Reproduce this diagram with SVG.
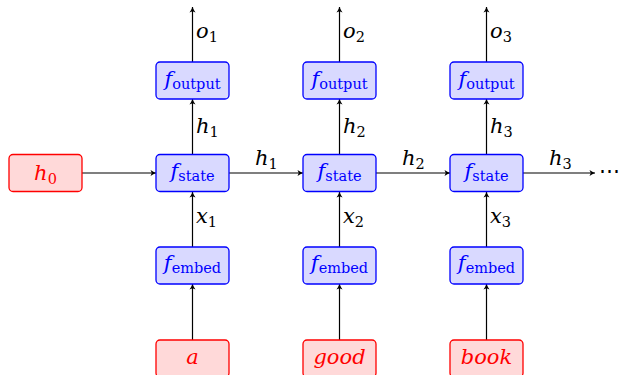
<svg xmlns="http://www.w3.org/2000/svg" width="625" height="375" viewBox="0 0 625 375">
<style>
.bbox{fill:#d9d9ff;stroke:#0000ff;stroke-width:1.3}
.rbox{fill:#ffd9d9;stroke:#ff0000;stroke-width:1.3}
text{font-family:'DejaVu Serif',serif;font-size:21px;font-style:italic}
.sub{font-size:14.5px;font-style:normal}
.bt{fill:#0000ff}
.rt{fill:#ff0000}
.conn line{stroke:#000;stroke-width:1.2;marker-end:url(#ah)}
</style>
<defs>
<marker id="ah" markerUnits="userSpaceOnUse" markerWidth="10" markerHeight="10" refX="7" refY="4" orient="auto">
<path d="M1.5,1 Q4.5,3 7,4 Q4.5,5 1.5,7 L2.8,4 Z" fill="#000"/>
</marker>
</defs>
<g id="connectors" class="conn">
<line x1="192.5" y1="62" x2="192.5" y2="7"/>
<line x1="339.5" y1="62" x2="339.5" y2="7"/>
<line x1="486.5" y1="62" x2="486.5" y2="7"/>
<line x1="192.5" y1="154" x2="192.5" y2="99"/>
<line x1="339.5" y1="154" x2="339.5" y2="99"/>
<line x1="486.5" y1="154" x2="486.5" y2="99"/>
<line x1="192.5" y1="247" x2="192.5" y2="192"/>
<line x1="339.5" y1="247" x2="339.5" y2="192"/>
<line x1="486.5" y1="247" x2="486.5" y2="192"/>
<line x1="192.5" y1="340" x2="192.5" y2="284"/>
<line x1="339.5" y1="340" x2="339.5" y2="284"/>
<line x1="486.5" y1="340" x2="486.5" y2="284"/>
<line x1="82" y1="173" x2="156" y2="173"/>
<line x1="229" y1="173" x2="303" y2="173"/>
<line x1="376" y1="173" x2="450" y2="173"/>
<line x1="523" y1="173" x2="595" y2="173"/>
</g>
<g id="labels">
<text x="196" y="38">o<tspan class="sub" dy="4">1</tspan></text>
<text x="343" y="38">o<tspan class="sub" dy="4">2</tspan></text>
<text x="490" y="38">o<tspan class="sub" dy="4">3</tspan></text>
<text x="196" y="133">h<tspan class="sub" dy="4">1</tspan></text>
<text x="343" y="133">h<tspan class="sub" dy="4">2</tspan></text>
<text x="490" y="133">h<tspan class="sub" dy="4">3</tspan></text>
<text x="196" y="223">x<tspan class="sub" dy="4">1</tspan></text>
<text x="343" y="223">x<tspan class="sub" dy="4">2</tspan></text>
<text x="490" y="223">x<tspan class="sub" dy="4">3</tspan></text>
<text x="255" y="165">h<tspan class="sub" dy="4">1</tspan></text>
<text x="402" y="165">h<tspan class="sub" dy="4">2</tspan></text>
<text x="549" y="165">h<tspan class="sub" dy="4">3</tspan></text>
<text x="599" y="178" style="font-style:normal;letter-spacing:1px">⋯</text>
</g>
<g id="h0">
<rect class="rbox" x="9" y="154.5" width="73" height="37" rx="4"/>
<text class="rt" x="45.5" y="180" text-anchor="middle">h<tspan class="sub" dy="4">0</tspan></text>
</g>
<g id="output1"><rect class="bbox" x="156" y="62" width="73" height="37" rx="4"/>
<text class="bt" x="192.5" y="86" text-anchor="middle">f<tspan class="sub" dy="3">output</tspan></text></g>
<g id="output2"><rect class="bbox" x="303" y="62" width="73" height="37" rx="4"/>
<text class="bt" x="339.5" y="86" text-anchor="middle">f<tspan class="sub" dy="3">output</tspan></text></g>
<g id="output3"><rect class="bbox" x="450" y="62" width="73" height="37" rx="4"/>
<text class="bt" x="486.5" y="86" text-anchor="middle">f<tspan class="sub" dy="3">output</tspan></text></g>
<g id="state1"><rect class="bbox" x="156" y="154.5" width="73" height="37" rx="4"/>
<text class="bt" x="192.5" y="178" text-anchor="middle">f<tspan class="sub" dy="3">state</tspan></text></g>
<g id="state2"><rect class="bbox" x="303" y="154.5" width="73" height="37" rx="4"/>
<text class="bt" x="339.5" y="178" text-anchor="middle">f<tspan class="sub" dy="3">state</tspan></text></g>
<g id="state3"><rect class="bbox" x="450" y="154.5" width="73" height="37" rx="4"/>
<text class="bt" x="486.5" y="178" text-anchor="middle">f<tspan class="sub" dy="3">state</tspan></text></g>
<g id="embed1"><rect class="bbox" x="156" y="247" width="73" height="37" rx="4"/>
<text class="bt" x="192.5" y="270" text-anchor="middle">f<tspan class="sub" dy="3">embed</tspan></text></g>
<g id="embed2"><rect class="bbox" x="303" y="247" width="73" height="37" rx="4"/>
<text class="bt" x="339.5" y="270" text-anchor="middle">f<tspan class="sub" dy="3">embed</tspan></text></g>
<g id="embed3"><rect class="bbox" x="450" y="247" width="73" height="37" rx="4"/>
<text class="bt" x="486.5" y="270" text-anchor="middle">f<tspan class="sub" dy="3">embed</tspan></text></g>
<g id="word1"><rect class="rbox" x="156" y="340" width="73" height="37" rx="4"/>
<text class="rt" x="192.5" y="364" text-anchor="middle">a</text></g>
<g id="word2"><rect class="rbox" x="303" y="340" width="73" height="37" rx="4"/>
<text class="rt" x="339.5" y="364" text-anchor="middle">good</text></g>
<g id="word3"><rect class="rbox" x="450" y="340" width="73" height="37" rx="4"/>
<text class="rt" x="486.5" y="364" text-anchor="middle">book</text></g>
</svg>
